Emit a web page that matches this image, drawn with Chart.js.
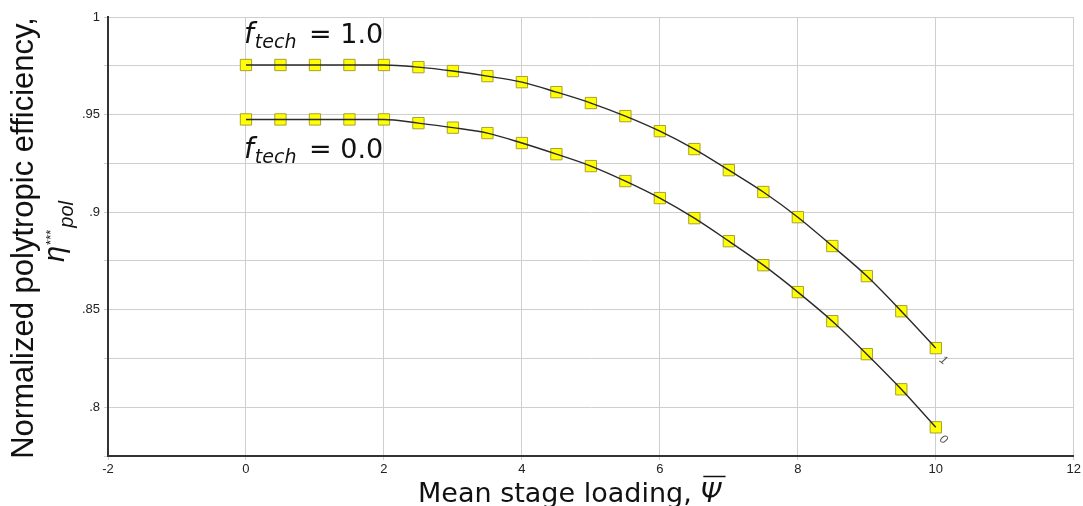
<!DOCTYPE html>
<html>
<head>
<meta charset="utf-8">
<script src="https://cdn.jsdelivr.net/npm/chart.js@4"></script>
<style>
  body { margin: 0; background: #fff; }
  canvas { display: block; }
</style>
</head>
<body>
<canvas id="effChart" width="1083" height="506"></canvas>
<script>
// Mean stage loading (x) und Wirkungsgrade fuer beide f_tech Werte
var psi = [0, 0.5, 1, 1.5, 2, 2.5, 3, 3.5, 4, 4.5, 5, 5.5, 6, 6.5, 7, 7.5, 8, 8.5, 9, 9.5, 10];
var etaTech1 = [0.9754, 0.9754, 0.9754, 0.9754, 0.9754, 0.9743, 0.9723, 0.9697, 0.9666, 0.9615, 0.9559, 0.9492, 0.9415, 0.9323, 0.9215, 0.9103, 0.8974, 0.8826, 0.8672, 0.8492, 0.8303];
var etaTech0 = [0.9475, 0.9475, 0.9475, 0.9475, 0.9475, 0.9456, 0.9433, 0.9405, 0.9354, 0.9297, 0.9236, 0.9159, 0.9072, 0.8969, 0.8851, 0.8728, 0.8590, 0.8441, 0.8272, 0.8092, 0.7897];
var endLabels = ['1', '0'];
var xTicks = [-2, 0, 2, 4, 6, 8, 10, 12];

function toPoints(values) {
    return psi.map(function(x, i) { return { x: x, y: values[i] }; });
}

function markerSet(values) {
    return {
        data: toPoints(values),
        showLine: false,
        pointStyle: 'rect',
        pointRadius: 8,
        pointBackgroundColor: '#ffff00',
        pointBorderColor: '#a8a030',
        pointBorderWidth: 1,
        order: 2
    };
}

function lineSet(values) {
    return {
        data: toPoints(values),
        borderColor: '#2a2a2a',
        borderWidth: 1.4,
        pointRadius: 0,
        cubicInterpolationMode: 'monotone',
        fill: false,
        order: 1
    };
}

// Texte zeichnen (Achsentitel, Annotationen, Endlabels)
function drawRuns(ctx, x, y, runs) {
    runs.forEach(function(r) {
        ctx.font = r.font;
        ctx.fillText(r.text, x, y + (r.dy || 0));
        x += ctx.measureText(r.text).width + (r.gap || 0);
    });
    return x;
}

var textPlugin = {
    id: 'textPlugin',
    afterDraw: function(chart) {
        var ctx = chart.ctx;
        var xs = chart.scales.x, ys = chart.scales.y;
        ctx.save();
        ctx.fillStyle = '#111';
        ctx.textBaseline = 'alphabetic';
        ctx.textAlign = 'left';

        // f_tech Annotationen
        [['1.0', 43], ['0.0', 158]].forEach(function(a) {
            drawRuns(ctx, 244, a[1], [
                { text: 'f', font: 'italic 28px "DejaVu Sans"', gap: 1 },
                { text: 'tech', font: 'italic 19px "DejaVu Sans"', dy: 5, gap: 4 },
                { text: ' = ' + a[0], font: '27px "DejaVu Sans"' }
            ]);
        });

        // x-Achsentitel
        ctx.font = '27px "DejaVu Sans"';
        var xt = 'Mean stage loading, ';
        var xStart = 418;
        ctx.fillText(xt, xStart, 502);
        var px = xStart + ctx.measureText(xt).width;
        ctx.font = 'italic 27px "DejaVu Sans"';
        ctx.fillText('\u03A8', px, 502);
        var pw = ctx.measureText('\u03A8').width;
        ctx.strokeStyle = '#111';
        ctx.lineWidth = 1.5;
        ctx.beginPath();
        ctx.moveTo(px + 3, 476.5);
        ctx.lineTo(px + pw + 4, 476.5);
        ctx.stroke();

        // y-Achsentitel (zwei Zeilen, gedreht)
        ctx.save();
        ctx.font = '31px "Liberation Sans"';
        var yt = 'Normalized polytropic efficiency,';
        var w1 = ctx.measureText(yt).width;
        ctx.translate(33, 238);
        ctx.rotate(-Math.PI / 2);
        ctx.fillText(yt, -w1 / 2, 0);
        ctx.restore();

        ctx.save();
        ctx.translate(64, 262);
        ctx.rotate(-Math.PI / 2);
        var ex = drawRuns(ctx, 0, 0, [
            { text: '\u03B7', font: 'italic 29px "Liberation Sans"', gap: 1 }
        ]);
        ctx.font = '13px "Liberation Sans"';
        ctx.fillText('***', ex, -9);
        ex += ctx.measureText('***').width + 2;
        ctx.font = 'italic 20px "Liberation Sans"';
        ctx.fillText('pol', ex, 9);
        ctx.restore();

        // Endlabels der Kurven
        [etaTech1, etaTech0].forEach(function(vals, i) {
            var n = vals.length - 1;
            var x0 = xs.getPixelForValue(psi[n]);
            var y0 = ys.getPixelForValue(vals[n]);
            ctx.save();
            ctx.translate(x0 + 3, y0 + 13);
            ctx.rotate(0.65);
            ctx.fillStyle = '#555';
            ctx.font = 'italic 12px "Liberation Sans"';
            ctx.fillText(endLabels[i], 0, 0);
            ctx.restore();
        });

        ctx.restore();
    }
};

var ctx = document.getElementById('effChart').getContext('2d');
var chart = new Chart(ctx, {
    type: 'line',
    data: {
        datasets: [
            markerSet(etaTech1),
            markerSet(etaTech0),
            lineSet(etaTech1),
            lineSet(etaTech0)
        ]
    },
    options: {
        responsive: false,
        animation: false,
        layout: { padding: { top: 17, right: 9, left: 0, bottom: 0 } },
        plugins: {
            legend: { display: false },
            tooltip: { enabled: false }
        },
        scales: {
            x: {
                type: 'linear',
                min: -2,
                max: 12,
                afterBuildTicks: function(scale) {
                    scale.ticks = xTicks.map(function(v) { return { value: v }; });
                },
                afterFit: function(scale) { scale.height = 50; },
                grid: { color: '#cfcfcf', lineWidth: 1, tickLength: 4 },
                border: { color: '#333', width: 2 },
                ticks: {
                    padding: 2,
                    color: '#222',
                    font: { family: 'Liberation Sans', size: 13 },
                    maxRotation: 0
                }
            },
            y: {
                min: 0.775,
                max: 1,
                afterFit: function(scale) { scale.width = 108; },
                grid: { color: '#cfcfcf', lineWidth: 1, tickLength: 4 },
                border: { color: '#333', width: 2 },
                ticks: {
                    stepSize: 0.025,
                    padding: 4,
                    color: '#222',
                    font: { family: 'Liberation Sans', size: 13 },
                    callback: function(v) {
                        var k = v * 20;
                        if (Math.abs(k - Math.round(k)) > 1e-6) return '';
                        if (Math.abs(v - 1) < 1e-9) return '1';
                        return String(+v.toFixed(3)).replace(/^0/, '');
                    }
                }
            }
        }
    },
    plugins: [textPlugin]
});
</script>
</body>
</html>
